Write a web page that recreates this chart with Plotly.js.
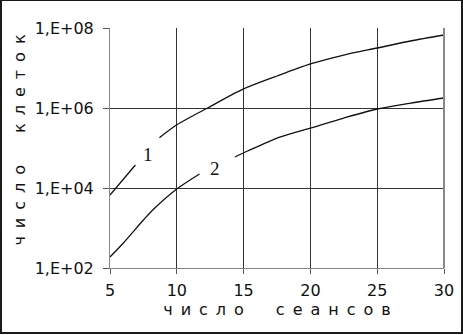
<!DOCTYPE html>
<html>
<head>
<meta charset="utf-8">
<script src="https://cdn.plot.ly/plotly-3.0.1.min.js"></script>
<style>
  html, body { margin: 0; padding: 0; background: #fff; }
  #wrap { position: relative; width: 463px; height: 335px; }
  #chart { position: absolute; left: 0; top: 0; width: 463px; height: 335px; }
  #frame { position: absolute; left: 0; top: 0; width: 463px; height: 334px; box-sizing: border-box;
           border: 2px solid #1a1a1a; border-top-width: 1px; pointer-events: none; }
</style>
</head>
<body>
<div id="wrap"><div id="chart"></div><div id="frame"></div></div>
<script>
// Curve 1 (null marks the break where label "1" sits)
const x1 = [5, 6.9, 7.8, 8.7, 10, 12.3, 15, 17.5, 20, 22.5, 25, 27.5, 30];
const y1 = [6700, 37600, null, 180000, 380000, 1000000, 3000000, 6310000, 12600000, 21100000, 31600000, 47300000, 66800000];

// Curve 2 (null marks the break where label "2" sits)
const x2 = [5, 6, 7.5, 8.2, 10, 11.7, 13, 14.35, 15.3, 17.7, 20, 22.5, 25, 27.5, 30];
const y2 = [188, 422, 1585, 2818, 9440, 22400, null, 59600, 84100, 188000, 316000, 562000, 944000, 1330000, 1780000];

const curveLabels = ['1', '2'];
const labelX = [7.84, 12.86];
const labelY = [4.83, 4.5];   // log10 positions on the y axis

const yTickVals = [100, 10000, 1000000, 100000000];
const yTickText = ['1,E+02', '1,E+04', '1,E+06', '1,E+08'];
const xTickVals = [5, 10, 15, 20, 25, 30];

const xTitle = 'число сеансов';
const yTitle = 'число клеток';

const sp = '\u2002';
const spaced = s => s.split('').map(c => c === ' ' ? sp + sp : c).join(sp);
const FONT = 'DejaVu Sans, Arial, sans-serif';

const traces = [
  { x: x1, y: y1, mode: 'lines', line: { color: '#111', width: 1.3, shape: 'spline', smoothing: 0.8 }, connectgaps: false, hoverinfo: 'skip' },
  { x: x2, y: y2, mode: 'lines', line: { color: '#111', width: 1.3, shape: 'spline', smoothing: 0.8 }, connectgaps: false, hoverinfo: 'skip' }
];

const layout = {
  width: 463, height: 335,
  margin: { l: 110, r: 19, t: 28, b: 67 },
  paper_bgcolor: '#fff', plot_bgcolor: '#fff',
  showlegend: false,
  font: { family: FONT, color: '#111', size: 15 },
  xaxis: {
    range: [5, 30], tickvals: xTickVals, ticktext: xTickVals.map(String),
    showgrid: true, gridcolor: '#333', gridwidth: 1,
    showline: true, linecolor: '#888', linewidth: 1, mirror: false,
    ticks: 'outside', ticklen: 5, tickcolor: '#555', tickwidth: 1,
    tickfont: { size: 16, family: FONT, color: '#111' },
    ticklabelstandoff: 3,
    zeroline: false,
    title: { text: spaced(xTitle), standoff: 2, font: { size: 16, family: FONT, color: '#111' } }
  },
  yaxis: {
    type: 'log', range: [2, 8], tickvals: yTickVals, ticktext: yTickText,
    showgrid: true, gridcolor: '#333', gridwidth: 1,
    showline: true, linecolor: '#888', linewidth: 1,
    ticks: 'outside', ticklen: 6, tickcolor: '#555', tickwidth: 1,
    tickfont: { size: 16, family: FONT, color: '#111' },
    ticklabelstandoff: 6,
    zeroline: false
  },
  shapes: [
    { type: 'line', xref: 'paper', yref: 'paper', x0: 1, x1: 1, y0: 0, y1: 1, line: { color: '#888', width: 2 } }
  ],
  annotations: curveLabels.map((t, i) => ({
    x: labelX[i], y: labelY[i], xref: 'x', yref: 'y', text: t, showarrow: false,
    font: { family: 'Liberation Serif, Times New Roman, serif', size: 19, color: '#111' }
  })).concat([{
    text: spaced(yTitle), textangle: -90, showarrow: false,
    xref: 'paper', yref: 'paper', x: -90 / 334, y: 0.535, xanchor: 'center', yanchor: 'middle',
    font: { size: 16, family: FONT, color: '#111' }
  }])
};

Plotly.newPlot('chart', traces, layout, { staticPlot: true, displayModeBar: false });
</script>
</body>
</html>
